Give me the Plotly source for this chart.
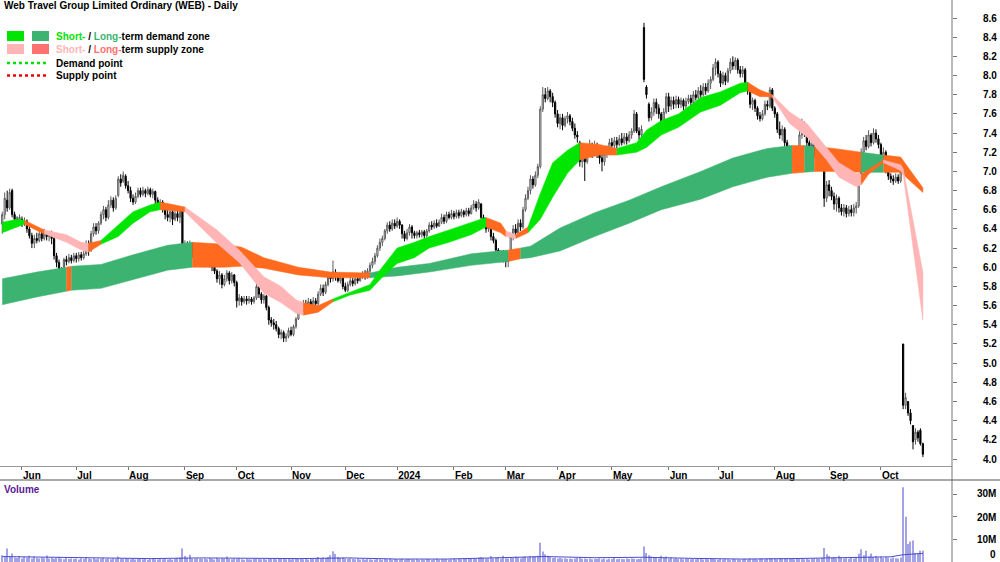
import plotly.graph_objects as go
import pandas as pd

# ---------------- data ----------------
opens = [6.45,6.55,6.70,6.62,6.80, 6.55,6.50,6.47,6.50,6.46, 6.48,6.40,6.33,6.25,6.30, 6.28,6.35,6.30,6.36,6.32,
         6.36,6.30,6.12,6.05,5.98, 5.98,6.08,6.06,6.10,6.07, 6.12,6.09,6.13,6.10,6.14, 6.25,6.18,6.35,6.42,6.38,
         6.46,6.55,6.60,6.52,6.65, 6.70,6.62,6.75,6.92,6.90, 6.95,6.85,6.80,6.72,6.68, 6.74,6.80,6.76,6.80,6.77,
         6.81,6.76,6.79,6.70,6.64, 6.68,6.60,6.55,6.52,6.58, 6.50,6.56,6.52,6.60,6.12, 6.22,6.18,6.24,6.15,6.10,
         6.14,6.08,6.12,6.05,6.10, 6.04,6.00,5.96,5.88,5.92, 5.82,5.88,5.94,5.86,5.92, 5.84,5.65,5.68,5.64,5.67,
         5.65,5.67,5.64,5.68,5.80, 5.72,5.66,5.70,5.58,5.45, 5.42,5.40,5.36,5.30,5.32, 5.26,5.28,5.34,5.30,5.38,
         5.46,5.60,5.56,5.62,5.58, 5.64,5.60,5.65,5.62,5.72, 5.78,5.74,5.82,5.90,5.88, 5.95,5.90,5.86,5.89,5.80,
         5.76,5.82,5.86,5.83,5.88, 5.86,5.90,5.93,5.90,5.96, 6.02,6.06,6.12,6.20,6.26, 6.30,6.38,6.44,6.40,6.46,
         6.43,6.48,6.44,6.35,6.30, 6.36,6.42,6.36,6.33,6.36, 6.34,6.37,6.33,6.38,6.44, 6.42,6.46,6.43,6.47,6.52,
         6.48,6.55,6.52,6.56,6.53, 6.57,6.54,6.58,6.55,6.59, 6.56,6.62,6.66,6.62,6.66, 6.52,6.45,6.40,6.43,6.32,
         6.28,6.18,6.12,6.15,6.10, 6.06,6.12,6.32,6.40,6.36, 6.46,6.42,6.60,6.72,6.80, 6.92,6.86,6.96,7.05,7.65,
         7.80,7.76,7.84,7.78,7.72, 7.60,7.50,7.56,7.48,7.55, 7.58,7.52,7.45,7.38,7.30, 7.10,7.16,7.10,7.22,7.28,
         7.20,7.26,7.20,7.14,7.10, 7.18,7.24,7.30,7.27,7.32, 7.28,7.34,7.30,7.36,7.32, 7.38,7.42,7.60,7.42,7.38,
         8.50,7.88,7.70,7.56,7.62, 7.72,7.66,7.60,7.45,7.62, 7.78,7.68,7.74,7.70,7.75, 7.70,7.74,7.68,7.73,7.76,
         7.72,7.80,7.77,7.84,7.80, 7.88,7.84,7.92,7.96,8.08, 8.14,8.02,7.92,8.00,7.94, 8.05,8.14,8.10,8.16,8.06,
         8.02,8.06,7.90,7.84,7.70, 7.74,7.66,7.58,7.55,7.60, 7.70,7.68,7.85,7.66,7.60, 7.44,7.38,7.44,7.30,7.24,
         7.06,7.18,7.14,7.20,7.38, 7.50,7.40,7.30,7.24,7.28, 7.18,7.14,7.20,7.06,6.72, 6.86,6.80,6.74,6.66,6.72,
         6.62,6.58,6.62,6.56,6.60, 6.57,6.62,6.64,6.90,7.20, 7.32,7.26,7.38,7.30,7.40, 7.34,7.28,7.16,7.20,7.02,
         6.95,6.92,6.90,6.94,6.90, 5.20,4.56,4.60,4.48,4.35, 4.20,4.28,4.30,4.16]
highs = [6.58,6.78,6.80,6.82,6.82, 6.58,6.53,6.55,6.53,6.52, 6.50,6.43,6.36,6.34,6.36, 6.38,6.38,6.40,6.38,6.38,
         6.38,6.32,6.15,6.08,6.00, 6.10,6.12,6.14,6.13,6.15, 6.15,6.16,6.16,6.17,6.28, 6.28,6.38,6.46,6.46,6.48,
         6.58,6.64,6.63,6.70,6.74, 6.73,6.75,6.95,6.97,7.00, 6.97,6.90,6.84,6.76,6.78, 6.83,6.83,6.84,6.82,6.84,
         6.83,6.82,6.80,6.73,6.71, 6.70,6.63,6.60,6.62,6.60, 6.60,6.60,6.63,6.62,6.28, 6.27,6.28,6.26,6.20,6.18,
         6.16,6.15,6.14,6.13,6.12, 6.06,6.03,5.98,5.96,5.94, 5.92,5.97,5.96,5.95,5.93, 5.86,5.72,5.70,5.70,5.70,
         5.70,5.69,5.70,5.84,5.82, 5.74,5.72,5.71,5.60,5.48, 5.46,5.44,5.38,5.35,5.34, 5.31,5.37,5.38,5.40,5.48,
         5.63,5.64,5.66,5.66,5.68, 5.67,5.69,5.68,5.75,5.82, 5.82,5.85,5.94,5.95,6.07, 5.98,5.93,5.92,5.90,5.84,
         5.85,5.90,5.89,5.90,5.91, 5.93,5.96,5.97,5.99,6.05, 6.10,6.15,6.23,6.30,6.33, 6.40,6.47,6.48,6.50,6.50,
         6.52,6.50,6.45,6.38,6.40, 6.45,6.44,6.38,6.38,6.39, 6.39,6.39,6.40,6.47,6.48, 6.49,6.50,6.50,6.56,6.55,
         6.58,6.58,6.60,6.59,6.60, 6.60,6.61,6.60,6.62,6.62, 6.65,6.70,6.69,6.71,6.67, 6.55,6.48,6.46,6.44,6.36,
         6.30,6.20,6.18,6.18,6.12, 6.15,6.36,6.44,6.45,6.50, 6.50,6.63,6.76,6.84,6.96, 6.95,7.00,7.08,7.68,7.88,
         7.87,7.88,7.86,7.82,7.74, 7.64,7.60,7.60,7.58,7.62, 7.60,7.56,7.50,7.42,7.32, 7.20,7.22,7.26,7.33,7.30,
         7.32,7.30,7.24,7.18,7.22, 7.27,7.34,7.35,7.36,7.36, 7.38,7.40,7.40,7.40,7.42, 7.45,7.64,7.62,7.46,7.48,
         8.55,7.90,7.72,7.67,7.76, 7.76,7.70,7.62,7.66,7.82, 7.82,7.78,7.78,7.79,7.78, 7.77,7.76,7.77,7.80,7.80,
         7.84,7.85,7.88,7.90,7.92, 7.92,7.96,7.99,8.12,8.18, 8.16,8.05,8.04,8.03,8.08, 8.18,8.20,8.19,8.18,8.10,
         8.10,8.08,7.93,7.86,7.77, 7.76,7.68,7.62,7.64,7.74, 7.74,7.88,7.87,7.68,7.62, 7.52,7.48,7.46,7.33,7.27,
         7.22,7.24,7.25,7.42,7.55, 7.52,7.42,7.33,7.32,7.30, 7.22,7.24,7.23,7.08,6.90, 6.91,6.84,6.78,6.76,6.74,
         6.66,6.66,6.65,6.64,6.65, 6.66,6.68,6.98,7.24,7.36, 7.38,7.43,7.40,7.45,7.44, 7.38,7.30,7.25,7.22,7.06,
         6.98,6.96,6.98,6.97,7.03, 5.20,4.69,4.60,4.52,4.35, 4.32,4.30,4.32,4.17]
lows = [6.35,6.50,6.58,6.60,6.52, 6.45,6.43,6.44,6.42,6.43, 6.36,6.30,6.20,6.20,6.25, 6.26,6.27,6.28,6.28,6.27,
        6.24,6.08,6.00,5.93,5.89, 5.97,6.02,6.04,6.04,6.05, 6.05,6.06,6.07,6.08,6.12, 6.12,6.16,6.32,6.34,6.35,
        6.44,6.50,6.48,6.50,6.62, 6.58,6.60,6.73,6.84,6.88, 6.82,6.77,6.68,6.65,6.66, 6.72,6.73,6.74,6.73,6.75,
        6.73,6.72,6.66,6.60,6.60, 6.57,6.50,6.48,6.47,6.44, 6.48,6.48,6.46,6.08,6.10, 6.12,6.14,6.10,6.05,6.06,
        6.04,6.02,6.00,6.01,6.00, 5.96,5.93,5.84,5.82,5.78, 5.80,5.85,5.82,5.83,5.80, 5.58,5.60,5.60,5.62,5.61,
        5.62,5.61,5.62,5.66,5.68, 5.62,5.62,5.55,5.40,5.38, 5.35,5.33,5.26,5.25,5.22, 5.22,5.26,5.28,5.28,5.36,
        5.45,5.52,5.53,5.54,5.55, 5.55,5.57,5.58,5.60,5.70, 5.70,5.72,5.80,5.84,5.85, 5.86,5.84,5.83,5.77,5.74,
        5.74,5.80,5.80,5.81,5.83, 5.85,5.88,5.87,5.88,5.94, 5.99,6.03,6.10,6.17,6.22, 6.28,6.35,6.37,6.38,6.40,
        6.41,6.40,6.30,6.27,6.28, 6.33,6.30,6.30,6.30,6.31, 6.31,6.30,6.31,6.36,6.39, 6.40,6.41,6.42,6.45,6.45,
        6.46,6.50,6.50,6.50,6.51, 6.51,6.52,6.52,6.53,6.53, 6.55,6.60,6.58,6.60,6.50, 6.42,6.36,6.37,6.28,6.25,
        6.15,6.08,6.08,6.05,6.00, 6.00,6.10,6.28,6.33,6.35, 6.38,6.40,6.58,6.70,6.76, 6.82,6.84,6.93,7.03,7.62,
        7.72,7.74,7.72,7.67,7.56, 7.46,7.44,7.43,7.46,7.50, 7.48,7.42,7.34,7.30,7.05, 7.04,6.90,7.08,7.18,7.14,
        7.16,7.14,7.08,7.00,7.06, 7.14,7.22,7.23,7.24,7.24, 7.26,7.27,7.28,7.28,7.30, 7.34,7.40,7.40,7.33,7.34,
        7.93,7.76,7.52,7.53,7.58, 7.60,7.55,7.40,7.43,7.60, 7.62,7.64,7.65,7.66,7.66, 7.66,7.64,7.65,7.70,7.68,
        7.70,7.74,7.75,7.77,7.78, 7.80,7.82,7.86,7.94,8.00, 7.98,7.88,7.90,7.90,7.92, 8.02,8.06,8.06,8.02,7.98,
        7.98,7.86,7.80,7.66,7.64, 7.62,7.54,7.52,7.53,7.58, 7.64,7.66,7.63,7.56,7.40, 7.34,7.32,7.26,7.20,7.00,
        7.04,7.10,7.11,7.18,7.34, 7.36,7.26,7.20,7.19,7.14, 7.10,7.10,7.08,6.63,6.68, 6.74,6.70,6.60,6.58,6.57,
        6.54,6.53,6.52,6.53,6.53, 6.53,6.56,6.62,6.88,7.12, 7.22,7.24,7.26,7.28,7.30, 7.24,7.12,7.12,6.98,6.91,
        6.88,6.86,6.88,6.87,6.88, 4.52,4.52,4.45,4.36,4.10, 4.15,4.18,4.14,4.02]
closes = [6.55,6.72,6.62,6.78,6.55, 6.50,6.47,6.52,6.45,6.48, 6.40,6.33,6.25,6.30,6.28, 6.35,6.30,6.36,6.32,6.36,
          6.30,6.12,6.05,5.98,5.96, 6.08,6.06,6.10,6.07,6.12, 6.09,6.13,6.10,6.14,6.25, 6.18,6.35,6.42,6.38,6.46,
          6.55,6.60,6.52,6.65,6.70, 6.62,6.72,6.92,6.88,6.96, 6.85,6.80,6.72,6.68,6.74, 6.80,6.76,6.80,6.77,6.81,
          6.76,6.79,6.70,6.64,6.68, 6.60,6.55,6.52,6.58,6.50, 6.56,6.52,6.60,6.12,6.22, 6.18,6.24,6.15,6.10,6.14,
          6.08,6.12,6.05,6.10,6.04, 6.00,5.96,5.88,5.92,5.82, 5.88,5.94,5.86,5.92,5.84, 5.65,5.68,5.64,5.67,5.65,
          5.67,5.64,5.68,5.80,5.72, 5.66,5.70,5.58,5.45,5.42, 5.40,5.36,5.30,5.32,5.26, 5.28,5.34,5.30,5.38,5.46,
          5.60,5.56,5.62,5.58,5.64, 5.60,5.65,5.62,5.72,5.78, 5.74,5.82,5.90,5.88,5.95, 5.90,5.86,5.89,5.80,5.76,
          5.82,5.86,5.83,5.88,5.86, 5.90,5.93,5.90,5.96,6.02, 6.06,6.12,6.20,6.26,6.30, 6.38,6.44,6.40,6.46,6.43,
          6.48,6.44,6.35,6.30,6.36, 6.42,6.36,6.33,6.36,6.34, 6.37,6.33,6.38,6.44,6.42, 6.46,6.43,6.47,6.52,6.48,
          6.55,6.52,6.56,6.53,6.57, 6.54,6.58,6.55,6.59,6.56, 6.62,6.66,6.62,6.68,6.52, 6.45,6.40,6.43,6.32,6.28,
          6.18,6.12,6.15,6.10,6.06, 6.12,6.32,6.40,6.36,6.46, 6.42,6.60,6.72,6.80,6.92, 6.86,6.96,7.05,7.65,7.80,
          7.76,7.84,7.78,7.72,7.60, 7.50,7.56,7.48,7.55,7.58, 7.52,7.45,7.38,7.36,7.10, 7.16,7.10,7.22,7.28,7.20,
          7.26,7.20,7.14,7.10,7.18, 7.24,7.30,7.27,7.32,7.28, 7.34,7.30,7.36,7.32,7.38, 7.42,7.60,7.42,7.38,7.44,
          7.96,7.80,7.56,7.62,7.72, 7.66,7.60,7.45,7.62,7.78, 7.68,7.74,7.70,7.75,7.70, 7.74,7.68,7.73,7.76,7.72,
          7.80,7.77,7.84,7.80,7.88, 7.84,7.92,7.96,8.08,8.14, 8.02,7.92,8.00,7.94,8.05, 8.14,8.10,8.16,8.06,8.02,
          8.06,7.90,7.84,7.70,7.74, 7.66,7.58,7.55,7.60,7.70, 7.68,7.85,7.66,7.60,7.44, 7.38,7.44,7.30,7.24,7.06,
          7.18,7.14,7.20,7.38,7.50, 7.40,7.30,7.24,7.28,7.18, 7.14,7.20,7.12,6.72,6.86, 6.80,6.74,6.66,6.72,6.62,
          6.58,6.62,6.56,6.60,6.57, 6.62,6.64,6.90,7.20,7.32, 7.26,7.38,7.30,7.40,7.34, 7.28,7.16,7.20,7.02,6.95,
          6.92,6.90,6.94,6.90,7.00, 4.56,4.64,4.48,4.40,4.18, 4.28,4.22,4.16,4.05]
# daily volume, millions of shares
volume_m = [3.0,2.2,6.0,2.5,3.8,2.0,1.8,2.6,1.5,2.2, 1.9,2.8,1.6,2.4,1.8,1.5,2.0,1.7,2.9,1.6,
            2.0,1.4,1.8,2.3,1.5,1.2,1.9,1.4,1.6,1.3, 1.5,1.1,1.7,1.4,2.2,1.6,1.3,1.8,1.2,1.5,
            1.4,1.9,1.3,1.6,1.2,1.7,1.4,2.4,1.5,1.3, 1.8,1.4,1.2,1.6,1.1,1.3,1.5,1.2,1.4,1.0,
            1.3,1.6,1.2,1.1,1.4,1.2,1.5,1.1,1.3,1.0, 1.4,1.8,2.0,6.0,2.6,1.9,3.2,1.6,1.4,1.7,
            1.5,1.3,1.6,1.2,1.8,1.4,1.1,1.9,1.3,1.5, 1.6,2.4,1.3,1.2,1.5,1.4,1.8,1.2,1.0,1.3,
            1.2,1.1,1.4,1.6,1.3,1.2,1.5,1.1,1.6,1.3, 1.4,1.2,1.7,1.3,1.5,1.2,1.4,1.1,1.3,1.8,
            1.6,1.3,1.2,1.5,1.1,1.4,1.3,1.6,2.2,1.5, 2.0,1.8,2.2,3.0,4.8,3.6,2.2,1.8,2.0,1.5,
            1.4,1.7,1.3,1.2,1.6,1.1,1.4,1.0,1.3,1.2, 1.0,1.1,1.3,1.2,1.0,1.4,1.2,1.5,1.1,1.3,
            1.2,1.1,1.4,1.0,1.2,1.3,1.1,1.0,1.2,0.9, 1.1,1.0,1.3,1.2,0.9,1.1,1.4,1.0,1.2,1.1,
            1.3,1.0,1.2,1.5,1.1,1.3,1.2,1.6,1.4,1.8, 1.5,1.7,1.3,2.0,2.2,1.8,1.4,1.6,2.6,1.5,
            1.9,2.2,1.4,2.8,1.7,1.5,2.0,1.8,2.4,2.0, 1.6,2.2,2.4,2.0,2.6,2.4,2.5,2.8,8.5,4.6,
            3.4,2.8,2.2,1.8,2.0,1.6,1.9,1.5,1.7,1.4, 1.6,1.3,1.5,1.8,2.2,1.4,1.6,1.3,1.5,1.2,
            1.4,1.3,1.6,1.2,1.5,1.1,1.4,1.3,2.0,1.2, 1.4,1.3,1.2,1.6,1.3,1.5,1.4,1.2,1.3,1.5,
            6.8,4.0,3.0,2.4,1.8,2.2,1.6,2.8,1.9,2.4, 1.5,2.0,1.4,1.8,1.3,1.6,1.2,1.5,1.3,1.2,
            1.4,1.2,1.6,1.3,1.1,1.5,1.2,1.4,1.3,1.2, 1.0,1.3,1.1,1.4,1.2,1.0,1.3,1.2,1.1,1.0,
            1.2,1.4,1.1,1.5,1.2,1.3,1.1,1.4,1.6,1.2, 1.5,1.8,1.4,1.6,1.2,1.8,1.4,1.7,1.3,1.6,
            1.4,1.2,1.5,1.3,1.6,1.2,1.4,1.1,1.3,1.5, 1.6,1.4,1.8,6.2,3.4,2.6,2.0,2.2,1.6,2.8,
            1.8,1.5,1.7,1.4,2.0,1.6,2.2,3.6,5.6,3.0, 5.0,2.4,3.8,2.2,2.6,2.0,2.4,1.8,2.2,1.9,
            1.6,2.0,1.7,1.5,2.0,33.0,20.0,8.0,9.0,9.5, 4.0,4.0,5.0,5.0]
# volume moving average (millions), read at sample days
vma_idx = [0, 20, 40, 60, 80, 100, 120, 140, 160, 180, 200, 220, 240, 260, 280, 300, 320, 340, 360, 365, 370, 373]
vma_m = [2.4, 2.2, 1.7, 1.5, 1.8, 1.6, 1.5, 1.8, 1.3, 1.3, 1.7, 2.4, 1.9, 2.1, 1.6, 1.3, 1.5, 1.9, 2.3, 3.2, 3.6, 3.8]

# short-term zone (day index, upper edge, lower edge, state of the stretch that starts there)
st_idx = [0, 6, 9, 15, 17, 26, 32, 35, 40, 47, 53, 60, 64, 74, 87, 96, 106, 113, 119, 122,
          128, 134, 141, 149, 153, 160, 167, 173, 181, 190, 196, 202, 204, 208, 213, 218, 223, 229, 234, 242,
          249, 257, 261, 267, 274, 283, 291, 299, 302, 307, 311, 312, 319, 326, 334, 339, 346, 348, 351, 357,
          358, 364, 365, 373]
st_top = [6.47, 6.50, 6.49, 6.41, 6.39, 6.34, 6.26, 6.25, 6.28, 6.44, 6.58, 6.65, 6.68, 6.63, 6.39, 6.18, 5.90, 5.80, 5.66, 5.63,
          5.60, 5.67, 5.74, 5.82, 5.97, 6.20, 6.26, 6.32, 6.39, 6.47, 6.52, 6.46, 6.38, 6.34, 6.42, 6.77, 7.09, 7.22, 7.30, 7.28,
          7.24, 7.30, 7.43, 7.53, 7.60, 7.77, 7.83, 7.92, 7.93, 7.85, 7.81, 7.80, 7.62, 7.50, 7.25, 7.09, 6.98, 6.97, 7.02, 7.12,
          7.11, 7.07, 7.03, 5.95]
st_bot = [6.36, 6.42, 6.45, 6.37, 6.35, 6.26, 6.18, 6.16, 6.24, 6.32, 6.46, 6.58, 6.60, 6.58, 6.25, 6.05, 5.73, 5.63, 5.52, 5.50,
          5.53, 5.64, 5.71, 5.76, 5.87, 6.04, 6.10, 6.20, 6.26, 6.34, 6.42, 6.36, 6.32, 6.30, 6.36, 6.50, 6.73, 6.98, 7.12, 7.17,
          7.17, 7.20, 7.25, 7.38, 7.46, 7.62, 7.69, 7.82, 7.84, 7.78, 7.78, 7.77, 7.50, 7.36, 7.12, 6.94, 6.84, 6.86, 6.97, 7.09,
          7.08, 7.01, 6.97, 5.45]
st_state = list("GGOOPPPOGG" "GGOPPPPPPO" "OGGGGGGGGG" "OOPOGGGGOO" "GGGGGGGGOO" "OPPPPPPOOP" "PPPP")

# long-term zone
lt_idx = [0, 14, 26, 28, 40, 53, 67, 77, 90, 97, 106, 120, 133, 149, 160, 173, 190, 205, 210, 214,
          226, 240, 254, 267, 283, 296, 310, 320, 325, 329, 337, 348, 357, 364, 373]
lt_top = [5.88, 5.95, 6.00, 6.01, 6.03, 6.13, 6.23, 6.26, 6.24, 6.21, 6.10, 6.00, 5.95, 5.94, 6.00, 6.04, 6.14, 6.18, 6.20, 6.22,
          6.41, 6.57, 6.70, 6.84, 7.00, 7.14, 7.24, 7.27, 7.27, 7.26, 7.24, 7.20, 7.17, 7.15, 6.83]
lt_bot = [5.61, 5.69, 5.75, 5.76, 5.78, 5.87, 5.97, 6.00, 6.00, 6.01, 5.99, 5.92, 5.89, 5.89, 5.91, 5.95, 6.02, 6.06, 6.09, 6.10,
          6.17, 6.32, 6.46, 6.60, 6.71, 6.84, 6.94, 6.98, 6.99, 7.00, 7.00, 6.99, 6.99, 6.99, 6.78]
lt_state = list("GGOGGGGOOO" "OOOGGGGOGG" "GGGGGGGOGO" "OGOOO")

month_labels = ["Jun", "Jul", "Aug", "Sep", "Oct", "Nov", "Dec", "2024", "Feb", "Mar",
                "Apr", "May", "Jun", "Jul", "Aug", "Sep", "Oct"]
price_ticks = [4.0, 4.2, 4.4, 4.6, 4.8, 5.0, 5.2, 5.4, 5.6, 5.8, 6.0, 6.2, 6.4, 6.6, 6.8, 7.0,
               7.2, 7.4, 7.6, 7.8, 8.0, 8.2, 8.4, 8.6]
vol_ticks_m = [0, 10, 20, 30]
vol_tick_text = ["0", "10M", "20M", "30M"]

# ---------------- styling ----------------
W, H = 1000, 562
PLOT_W = 952          # plot area width (right margin holds the axis labels)
FONT = "Liberation Sans, Arial, sans-serif"
ST_COL = {"G": "#00e600", "O": "#ff6a1f", "P": "#ffb5b5"}
LT_COL = {"G": "#3cb371", "O": "#ff6a1f", "P": "#ff7070"}

dates = pd.bdate_range("2023-05-22", periods=len(closes)).strftime("%Y-%m-%d").tolist()
tickvals, seen = [], set()
for d in dates:
    if d[:7] not in seen:
        seen.add(d[:7])
        if int(d[8:]) <= 7:
            tickvals.append(d)

def px(x):
    # pixel -> paper fraction (paper spans the plot area only)
    return x / PLOT_W

def py(y):
    return 1 - y / H

fig = go.Figure()

def add_zone(idx, top, bot, state, cmap):
    n = len(idx)
    k = 0
    while k < n - 1:
        m = k
        while m + 1 < n - 1 and state[m + 1] == state[k]:
            m += 1
        seg = list(range(k, m + 2))
        xs = [dates[idx[j]] for j in seg]
        ys = [top[j] for j in seg] + [bot[j] for j in reversed(seg)]
        c = cmap[state[k]]
        fig.add_trace(go.Scatter(x=xs + xs[::-1], y=ys, fill="toself", fillcolor=c,
                                 mode="lines", line=dict(color=c, width=0.5),
                                 hoverinfo="skip", showlegend=False))
        k = m + 1

add_zone(lt_idx, lt_top, lt_bot, lt_state, LT_COL)
add_zone(st_idx, st_top, st_bot, st_state, ST_COL)

fig.add_trace(go.Candlestick(
    x=dates, open=opens, high=highs, low=lows, close=closes,
    increasing=dict(line=dict(color="#5a5a5a", width=1), fillcolor="#ffffff"),
    decreasing=dict(line=dict(color="#000000", width=1), fillcolor="#000000"),
    whiskerwidth=0, showlegend=False))

fig.add_trace(go.Bar(x=dates, y=[v * 1e6 for v in volume_m], width=0.45,
                     marker=dict(color="#a3a3e6", line=dict(width=0)),
                     xaxis="x2", yaxis="y2", showlegend=False))
fig.add_trace(go.Scatter(x=[dates[i] for i in vma_idx], y=[v * 1e6 for v in vma_m],
                         mode="lines", line=dict(color="#4b4bc8", width=1),
                         xaxis="x2", yaxis="y2", showlegend=False))

xr = [-0.91, 384.8]
axfont = dict(family=FONT, size=10, color="black", weight="bold")
fig.update_layout(
    width=W, height=H, template="none",
    margin=dict(l=0, r=W - PLOT_W, t=0, b=0),
    paper_bgcolor="white", plot_bgcolor="white", showlegend=False,
    xaxis=dict(domain=[0, 1], anchor="y", type="category", categoryorder="array",
               categoryarray=dates, range=xr, tickvals=tickvals, ticktext=month_labels,
               ticks="outside", ticklen=3, tickcolor="#777", tickwidth=1,
               ticklabelposition="outside right", tickfont=axfont,
               showline=True, linecolor="#999", linewidth=1, showgrid=False,
               zeroline=False, rangeslider=dict(visible=False), automargin=False),
    yaxis=dict(domain=[py(466), 1], side="right", range=[3.927, 8.788],
               tickvals=price_ticks, tickformat=".1f", ticks="outside", ticklen=4,
               tickcolor="#777", showline=False, showgrid=False, zeroline=False,
               tickfont=axfont, ticklabelstandoff=24, automargin=False),
    xaxis2=dict(domain=[0, 1], anchor="y2", type="category", categoryorder="array",
                categoryarray=dates, range=xr, showticklabels=False, ticks="",
                showline=False, showgrid=False, zeroline=False, automargin=False),
    yaxis2=dict(domain=[0, py(480)], side="right", range=[0, 36.2e6],
                tickvals=[v * 1e6 for v in vol_ticks_m], showticklabels=False,
                ticks="outside", ticklen=4, tickcolor="#777",
                showline=False, showgrid=False, zeroline=False, automargin=False),
)

shapes = [
    dict(type="line", xref="paper", yref="paper", x0=1, x1=1, y0=0, y1=1,
         line=dict(color="#777", width=1)),
    dict(type="line", xref="paper", yref="paper", x0=0, x1=px(W), y0=py(480), y1=py(480),
         line=dict(color="#555", width=1)),
    dict(type="rect", xref="paper", yref="paper", x0=px(7), x1=px(24), y0=py(41), y1=py(31),
         fillcolor=ST_COL["G"], line=dict(width=0)),
    dict(type="rect", xref="paper", yref="paper", x0=px(32), x1=px(49), y0=py(41), y1=py(31),
         fillcolor=LT_COL["G"], line=dict(width=0)),
    dict(type="rect", xref="paper", yref="paper", x0=px(7), x1=px(24), y0=py(54), y1=py(44),
         fillcolor=ST_COL["P"], line=dict(width=0)),
    dict(type="rect", xref="paper", yref="paper", x0=px(32), x1=px(49), y0=py(54), y1=py(44),
         fillcolor=LT_COL["P"], line=dict(width=0)),
    dict(type="line", xref="paper", yref="paper", x0=px(7), x1=px(49), y0=py(63), y1=py(63),
         line=dict(color="#00dd00", width=2.5, dash="dot")),
    dict(type="line", xref="paper", yref="paper", x0=px(7), x1=px(49), y0=py(75.5), y1=py(75.5),
         line=dict(color="#ee0000", width=2.5, dash="dot")),
]
fig.update_layout(shapes=shapes)

def note(x, y, text, size=10, color="black", xanchor="left"):
    fig.add_annotation(x=px(x), y=py(y), xref="paper", yref="paper", text=text,
                       showarrow=False, xanchor=xanchor, yanchor="middle",
                       font=dict(family=FONT, size=size, color=color), align="left")

note(2, 6, "<b>Web Travel Group Limited Ordinary (WEB) - Daily</b>")
note(54, 36, "<b><span style='color:#00e600'>Short-</span> / <span style='color:#3cb371'>Long-</span>term demand zone</b>")
note(54, 49.5, "<b><span style='color:#ffb5b5'>Short-</span> / <span style='color:#ff7070'>Long-</span>term supply zone</b>")
note(54, 63, "<b>Demand point</b>")
note(54, 75.5, "<b>Supply point</b>")
note(2, 489, "<b>Volume</b>", color="#5a1a96")
vol_y = {0: 554, 10: 539.5, 20: 517, 30: 494}
for v, t in zip(vol_ticks_m, vol_tick_text):
    note(998, vol_y[v], "<b>%s</b>" % t, xanchor="right")

fig.write_html("out.html")
